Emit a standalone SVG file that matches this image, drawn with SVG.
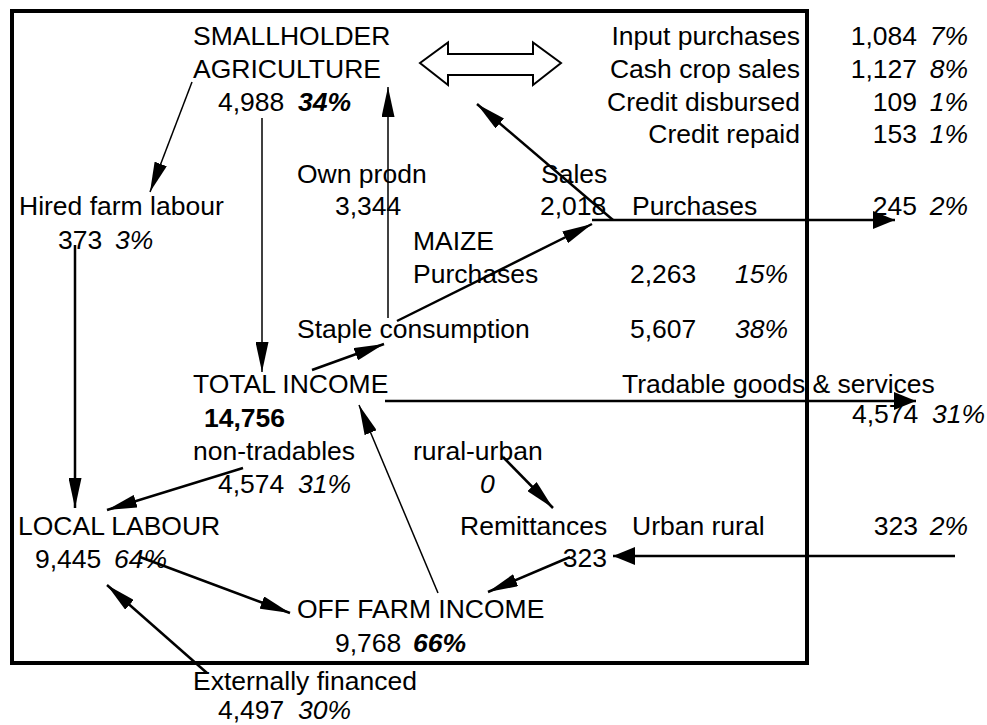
<svg xmlns="http://www.w3.org/2000/svg" width="987" height="725" viewBox="0 0 987 725">
<style>
text{font-family:"Liberation Sans",Arial,sans-serif;font-size:26.5px;fill:#000}
.i{font-style:italic}
.b{font-weight:bold}
.bi{font-weight:bold;font-style:italic}
.e{text-anchor:end}
.thin{stroke:#000;stroke-width:1.5;fill:none}
.thick{stroke:#000;stroke-width:2.5;fill:none}
</style>
<defs>
<marker id="ah" viewBox="0 0 30 13" refX="30" refY="6.5" markerWidth="30" markerHeight="13" markerUnits="userSpaceOnUse" orient="auto"><path d="M0,0 L30,6.5 L0,13 Z" fill="#000"/></marker>
<marker id="aw" viewBox="0 0 22 18" refX="22" refY="9" markerWidth="22" markerHeight="18" markerUnits="userSpaceOnUse" orient="auto"><path d="M0,0 L22,9 L0,18 Z" fill="#000"/></marker>
</defs>
<rect x="12" y="11" width="795" height="652" fill="none" stroke="#000" stroke-width="4"/>
<g id="smallholder">
<text x="193" y="45">SMALLHOLDER</text>
<text x="193" y="78">AGRICULTURE</text>
<text x="218" y="111">4,988</text>
<text class="bi" x="298" y="111">34%</text>
</g>
<g id="exchange">
<polygon points="420,63 448,42.5 448,54 533,54 533,42.5 561,63 533,85 533,75 448,75 448,85" fill="#fff" stroke="#000" stroke-width="2"/>
</g>
<g id="cash-flows">
<text class="e" x="800" y="45">Input purchases</text>
<text class="e" x="800" y="78">Cash crop sales</text>
<text class="e" x="800" y="111">Credit disbursed</text>
<text class="e" x="800" y="143">Credit repaid</text>
<text class="e" x="917" y="45">1,084</text>
<text class="e" x="917" y="78">1,127</text>
<text class="e" x="917" y="111">109</text>
<text class="e" x="917" y="143">153</text>
<text class="e i" x="968" y="45">7%</text>
<text class="e i" x="968" y="78">8%</text>
<text class="e i" x="968" y="111">1%</text>
<text class="e i" x="968" y="143">1%</text>
</g>
<g id="own-prodn">
<text x="297" y="183">Own prodn</text>
<text x="335" y="215">3,344</text>
</g>
<g id="sales">
<text x="541" y="183">Sales</text>
<text x="540" y="215">2,018</text>
</g>
<g id="purchases-out">
<text x="632" y="215">Purchases</text>
<text class="e" x="917" y="215">245</text>
<text class="e i" x="968" y="215">2%</text>
</g>
<g id="hired-labour">
<text x="19" y="215">Hired farm labour</text>
<text x="58" y="249">373</text>
<text class="i" x="115" y="249">3%</text>
</g>
<g id="maize">
<text x="413" y="250">MAIZE</text>
<text x="413" y="283">Purchases</text>
<text x="630" y="283">2,263</text>
<text class="i" x="735" y="283">15%</text>
</g>
<g id="staple">
<text x="297" y="338">Staple consumption</text>
<text x="630" y="338">5,607</text>
<text class="i" x="735" y="338">38%</text>
</g>
<g id="total-income">
<text x="193" y="393">TOTAL INCOME</text>
<text class="b" x="204" y="427">14,756</text>
</g>
<g id="tradables">
<text x="622" y="393">Tradable goods &amp; services</text>
<text x="852" y="423">4,574</text>
<text class="i" x="932" y="423">31%</text>
</g>
<g id="non-tradables">
<text x="193" y="460">non-tradables</text>
<text x="218" y="493">4,574</text>
<text class="i" x="298" y="493">31%</text>
</g>
<g id="rural-urban">
<text x="413" y="460">rural-urban</text>
<text class="i" x="480" y="493">0</text>
</g>
<g id="local-labour">
<text x="18" y="535">LOCAL LABOUR</text>
<text x="35" y="568">9,445</text>
<text class="i" x="114" y="568">64%</text>
</g>
<g id="remittances">
<text x="460" y="535">Remittances</text>
<text class="e" x="607" y="567">323</text>
</g>
<g id="urban-rural">
<text x="632" y="535">Urban rural</text>
<text class="e" x="918" y="535">323</text>
<text class="e i" x="968" y="535">2%</text>
</g>
<g id="off-farm">
<text x="297" y="618">OFF FARM INCOME</text>
<text x="335" y="652">9,768</text>
<text class="bi" x="413" y="652">66%</text>
</g>
<g id="external">
<text x="193" y="690">Externally financed</text>
<text x="218" y="719">4,497</text>
<text class="i" x="298" y="719">30%</text>
</g>
<g id="connectors">
<line class="thin" x1="192" y1="82" x2="150" y2="192" marker-end="url(#ah)"/>
<line class="thin" x1="262" y1="118" x2="262" y2="372" marker-end="url(#ah)"/>
<line class="thin" x1="388" y1="318" x2="388" y2="87" marker-end="url(#ah)"/>
<line class="thick" x1="613" y1="220" x2="477" y2="104" marker-end="url(#ah)"/>
<line class="thick" x1="592" y1="220" x2="895" y2="220" marker-end="url(#aw)"/>
<line class="thick" x1="397" y1="321" x2="592" y2="224" marker-end="url(#ah)"/>
<line class="thick" x1="312" y1="370" x2="384" y2="344" marker-end="url(#ah)"/>
<line class="thick" x1="385" y1="401" x2="916" y2="401" marker-end="url(#aw)"/>
<line class="thick" x1="243" y1="468" x2="107" y2="510" marker-end="url(#ah)"/>
<line class="thin" x1="438" y1="593" x2="359" y2="405" marker-end="url(#ah)"/>
<line class="thick" x1="503" y1="457" x2="553" y2="508" marker-end="url(#ah)"/>
<line class="thick" x1="955" y1="556" x2="613" y2="556" marker-end="url(#aw)"/>
<line class="thick" x1="570" y1="557" x2="488" y2="592" marker-end="url(#ah)"/>
<line class="thick" x1="140" y1="557" x2="290" y2="613" marker-end="url(#ah)"/>
<line class="thick" x1="207" y1="673" x2="107" y2="585" marker-end="url(#ah)"/>
<line class="thick" x1="75" y1="245" x2="75" y2="508" marker-end="url(#ah)"/>
</g>
</svg>
